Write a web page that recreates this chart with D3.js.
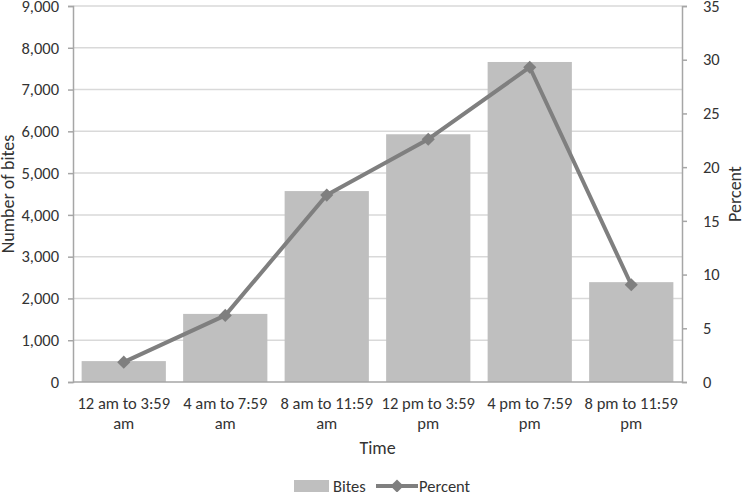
<!DOCTYPE html>
<html>
<head>
<meta charset="utf-8">
<script src="https://d3js.org/d3.v7.min.js"></script>
<style>
  body { margin: 0; background: #fff; }
  svg text { font-family: Carlito, Lato, "Open Sans", sans-serif; fill: #333; }
</style>
</head>
<body>
<svg width="743" height="492"></svg>
<script>
var categories = [["12 am to 3:59", "am"], ["4 am to 7:59", "am"], ["8 am to 11:59", "am"],
                  ["12 pm to 3:59", "pm"], ["4 pm to 7:59", "pm"], ["8 pm to 11:59", "pm"]];
var bites = [500, 1630, 4570, 5930, 7660, 2390];
var percent = [1.85, 6.2, 17.4, 22.6, 29.3, 9.05];
var leftTicks = [0, 1000, 2000, 3000, 4000, 5000, 6000, 7000, 8000, 9000];
var rightTicks = [0, 5, 10, 15, 20, 25, 30, 35];

var svg = d3.select("svg"),
    margin = {top: 6, right: 61, bottom: 110, left: 73},
    width = +svg.attr("width") - margin.left - margin.right,
    height = +svg.attr("height") - margin.top - margin.bottom;

var g = svg.append("g").attr("transform", "translate(" + margin.left + "," + margin.top + ")");

var x = d3.scaleBand().domain(d3.range(categories.length)).range([0, width]).paddingInner(0.17).paddingOuter(0.085);
var y = d3.scaleLinear().domain([0, 9000]).range([height, 0]);
var y2 = d3.scaleLinear().domain([0, 35]).range([height, 0]);

// gridlines
g.selectAll(".grid").data(leftTicks.slice(1)).enter().append("line")
    .attr("x1", 0).attr("x2", width)
    .attr("y1", function(d) { return y(d); }).attr("y2", function(d) { return y(d); })
    .attr("stroke", "#d9d9d9").attr("stroke-width", 1.5);

// bars
g.selectAll("rect.bar").data(bites).enter().append("rect")
    .attr("class", "bar")
    .attr("x", function(d, i) { return x(i); })
    .attr("width", x.bandwidth())
    .attr("y", function(d) { return y(d); })
    .attr("height", function(d) { return height - y(d); })
    .attr("fill", "#bfbfbf");

// line
var line = d3.line()
    .x(function(d, i) { return x(i) + x.bandwidth() / 2; })
    .y(function(d) { return y2(d); });
g.append("path").datum(percent)
    .attr("d", line).attr("fill", "none")
    .attr("stroke", "#7f7f7f").attr("stroke-width", 4).attr("stroke-linejoin", "round");

var diamond = d3.symbol().type(d3.symbolDiamond2).size(110);
g.selectAll("path.pt").data(percent).enter().append("path")
    .attr("class", "pt")
    .attr("d", diamond)
    .attr("transform", function(d, i) { return "translate(" + (x(i) + x.bandwidth() / 2) + "," + y2(d) + ")"; })
    .attr("fill", "#7f7f7f");

// axes
var leftAxis = g.append("g")
    .call(d3.axisLeft(y).tickValues(leftTicks).tickFormat(d3.format(",")).tickSize(5).tickPadding(9));
var rightAxis = g.append("g").attr("transform", "translate(" + width + ",0)")
    .call(d3.axisRight(y2).tickValues(rightTicks).tickSize(5).tickPadding(16));
[leftAxis, rightAxis].forEach(function(a) {
  a.select(".domain").attr("stroke", "#a6a6a6").attr("stroke-width", 1.5);
  a.selectAll(".tick line").attr("stroke", "#a6a6a6").attr("stroke-width", 1.5);
  a.selectAll(".tick text").style("font-size", "16.5px").attr("fill", "#333");
});
g.append("line").attr("x1", 0).attr("x2", width).attr("y1", height).attr("y2", height)
    .attr("stroke", "#a6a6a6").attr("stroke-width", 1.5);

// x labels
var xl = g.selectAll(".xl").data(categories).enter().append("text")
    .attr("text-anchor", "middle")
    .style("font-size", "16.5px")
    .attr("transform", function(d, i) { return "translate(" + (x(i) + x.bandwidth() / 2) + "," + (height + 27) + ")"; });
xl.append("tspan").attr("x", 0).attr("y", 0).text(function(d) { return d[0]; });
xl.append("tspan").attr("x", 0).attr("y", 20).text(function(d) { return d[1]; });

// titles
svg.append("text").attr("x", margin.left + width / 2).attr("y", 454)
    .attr("text-anchor", "middle").style("font-size", "18px").text("Time");
svg.append("text").attr("transform", "translate(14," + (margin.top + height / 2) + ") rotate(-90)")
    .attr("text-anchor", "middle").style("font-size", "18px").text("Number of bites");
svg.append("text").attr("transform", "translate(741," + (margin.top + height / 2) + ") rotate(-90)")
    .attr("text-anchor", "middle").style("font-size", "18px").text("Percent");

// legend
var lg = svg.append("g").attr("transform", "translate(294,486)");
lg.append("rect").attr("x", 0).attr("y", -6).attr("width", 35).attr("height", 12).attr("fill", "#bfbfbf");
lg.append("text").attr("x", 39).attr("y", 6).style("font-size", "16.5px").text("Bites");
lg.append("line").attr("x1", 82).attr("x2", 124).attr("y1", 0).attr("y2", 0)
    .attr("stroke", "#7f7f7f").attr("stroke-width", 4);
lg.append("path").attr("d", diamond).attr("transform", "translate(103,0)").attr("fill", "#7f7f7f");
lg.append("text").attr("x", 125).attr("y", 6).style("font-size", "16.5px").text("Percent");
</script>
</body>
</html>
